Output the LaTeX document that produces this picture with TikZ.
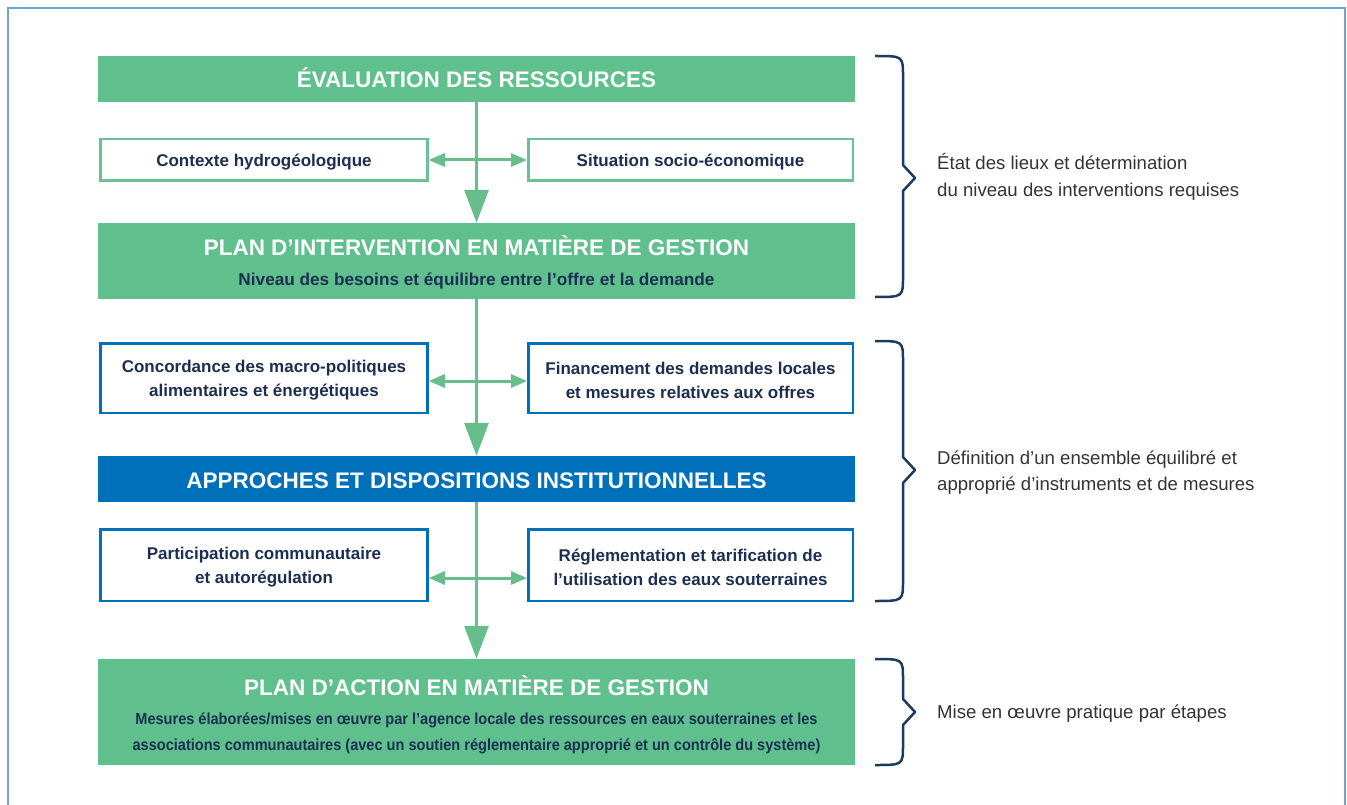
\documentclass[tikz,border=0pt]{standalone}
\usepackage{fontspec}
\setmainfont{Liberation Sans}
\newfontfamily\condfont[FakeStretch=0.91]{Liberation Sans}
\usetikzlibrary{arrows.meta}
\definecolor{grn}{HTML}{5FC08E}
\definecolor{grnline}{HTML}{6CC194}
\definecolor{arr}{HTML}{67BE8C}
\definecolor{blu}{HTML}{0070BA}
\definecolor{navy}{HTML}{1C2F52}
\definecolor{bracecol}{HTML}{1C3B5E}
\definecolor{framecol}{HTML}{74A3D1}
\definecolor{gtext}{HTML}{333333}
\newcommand\mybrace[3]{%
  \draw[bracestyle] (875,#1) .. controls (903,#1) .. (903,#1+20) -- (903,#3-13) -- (915,#3) -- (903,#3+13) -- (903,#2-20) .. controls (903,#2) .. (875,#2);}
\begin{document}
\begin{tikzpicture}[x=1pt,y=-1pt,
  bigbox/.style={fill=grn, draw=none, minimum width=757pt, inner sep=0pt},
  bluebig/.style={fill=blu, draw=none, minimum width=757pt, inner sep=0pt},
  gbox/.style={draw=grnline, fill=white, line width=2.5pt, inner sep=0pt},
  bbox/.style={draw=blu, fill=white, line width=2.5pt, inner sep=0pt},
  boxtext/.style={inner sep=0pt, align=center, text=navy, font=\bfseries\fontsize{17}{24}\selectfont},
  title/.style={anchor=base, text=white, font=\bfseries\fontsize{22.5}{27}\selectfont},
  subtitle/.style={anchor=base, text=navy, font=\bfseries\fontsize{17.2}{20}\selectfont},
  condsub/.style={anchor=base, text=navy, font=\condfont\bfseries\fontsize{16}{20}\selectfont},
  side/.style={anchor=base west, inner sep=0pt, text=gtext, font=\fontsize{18.6}{22}\selectfont},
  vline/.style={draw=arr, line width=3pt, -{Triangle[width=24pt,length=33pt]}},
  hline/.style={draw=arr, line width=3pt, {Triangle[width=13pt,length=16pt]}-{Triangle[width=13pt,length=16pt]}},
  bracestyle/.style={draw=bracecol, line width=2.5pt, line join=round}
]
\useasboundingbox (0,0) rectangle (1347,805);
\draw[framecol, line width=2pt] (8,812) -- (8,8) -- (1345,8) -- (1345,812);

% main boxes
\node[bigbox, minimum height=46pt] (b1) at (476.5,79) {};
\node[bigbox, minimum height=76pt] (b2) at (476.5,261) {};
\node[bluebig, minimum height=46pt] (b3) at (476.5,479) {};
\node[bigbox, minimum height=106pt] (b4) at (476.5,712) {};

% side boxes
\node[gbox, minimum width=327pt, minimum height=41.5pt] (c1) at (264,160) {};
\node[gbox, minimum width=324.5pt, minimum height=41.5pt] (c2) at (690.5,160) {};
\node[bbox, minimum width=327pt, minimum height=69.5pt] (d1) at (264,378) {};
\node[bbox, minimum width=324.5pt, minimum height=69.5pt] (d2) at (690.5,378) {};
\node[bbox, minimum width=327pt, minimum height=71.5pt] (e1) at (264,565) {};
\node[bbox, minimum width=324.5pt, minimum height=71.5pt] (e2) at (690.5,565) {};

\node[boxtext] (c1t) at ([yshift=-2pt]c1.center) {Contexte hydrogéologique};
\node[boxtext] (c2t) at ([yshift=-2pt]c2.center) {Situation socio-économique};
\node[boxtext] (d1t) at ([yshift=-2.5pt]d1.center) {Concordance des macro-politiques\\alimentaires et énergétiques};
\node[boxtext] (d2t) at ([yshift=-2.5pt]d2.center) {Financement des demandes locales\\et mesures relatives aux offres};
\node[boxtext] (e1t) at ([yshift=-2pt]e1.center) {Participation communautaire\\et autorégulation};
\node[boxtext] (e2t) at ([yshift=-2pt]e2.center) {Réglementation et tarification de\\l’utilisation des eaux souterraines};

% texts in main boxes
\node[title] (t1) at (476.5,88) {ÉVALUATION DES RESSOURCES};
\node[title] (t2) at (476.5,255) {PLAN D’INTERVENTION EN MATIÈRE DE GESTION};
\node[subtitle] (s2) at (476.5,285) {Niveau des besoins et équilibre entre l’offre et la demande};
\node[title] (t3) at (476.5,488) {APPROCHES ET DISPOSITIONS INSTITUTIONNELLES};
\node[title] (t4) at (476.5,695) {PLAN D’ACTION EN MATIÈRE DE GESTION};
\node[condsub] (s4a) at (476.5,724) {Mesures élaborées/mises en œuvre par l’agence locale des ressources en eaux souterraines et les};
\node[condsub] (s4b) at (476.5,750) {associations communautaires (avec un soutien réglementaire approprié et un contrôle du système)};

% connectors
\draw[vline] (b1.south) -- (b2.north);
\draw[vline] (b2.south) -- (b3.north);
\draw[vline] (b3.south) -- (b4.north);
\draw[hline] (c1.east) -- (c2.west);
\draw[hline] ([yshift=-3pt]d1.east) -- ([yshift=-3pt]d2.west);
\draw[hline] ([yshift=-13pt]e1.east) -- ([yshift=-13pt]e2.west);

% braces
\mybrace{56}{297}{178}
\mybrace{341}{601}{470}
\mybrace{659}{765}{712}

% side texts
\node[side] (r1a) at (937,170) {État des lieux et détermination};
\node[side] (r1b) at (937,197) {du niveau des interventions requises};
\node[side] (r2a) at (937,464) {Définition d’un ensemble équilibré et};
\node[side] (r2b) at (937,490.5) {approprié d’instruments et de mesures};
\node[side] (r3) at (937,718.5) {Mise en œuvre pratique par étapes};
\end{tikzpicture}
\end{document}
